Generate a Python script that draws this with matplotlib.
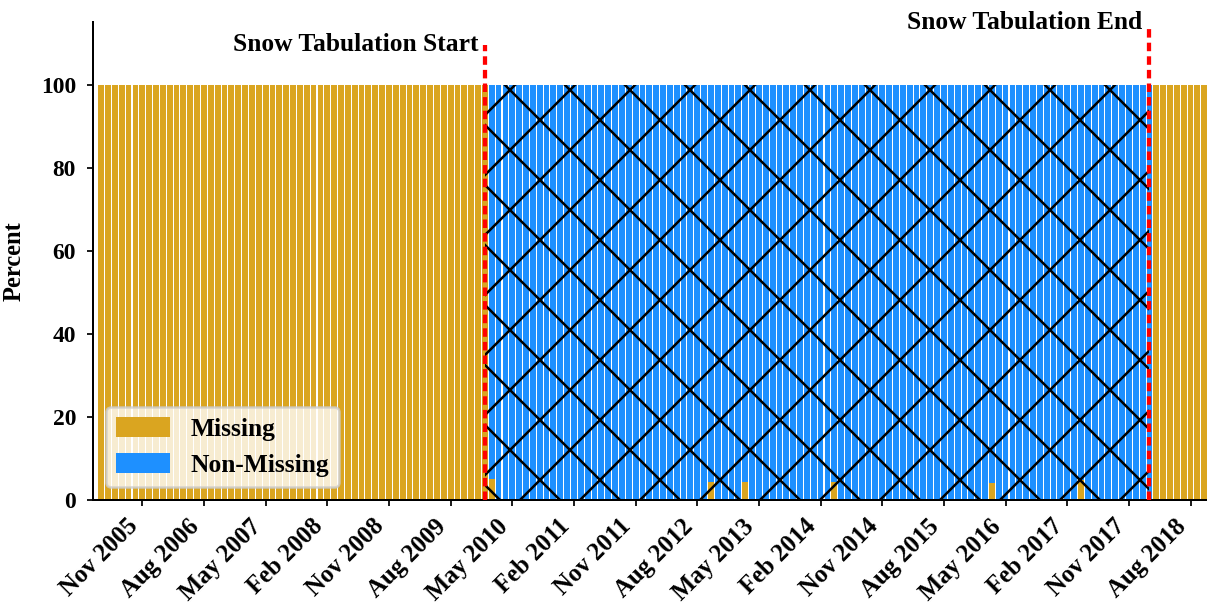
import matplotlib
matplotlib.use("Agg")
import matplotlib.pyplot as plt
import numpy as np
import pandas as pd

# ---- data -------------------------------------------------------------
# monthly record span
first_month = "2005-05"
last_month = "2018-10"

# snow tabulation window (months holding reported values)
tab_start_month = "2010-02"
tab_end_month = "2018-02"

# months where the vertical markers are placed
start_marker_month = "2010-01"
end_marker_month = "2018-02"

# months inside the window that are partly missing (percent missing)
partial_months = ["2010-02", "2012-10", "2013-03", "2014-04", "2016-03", "2017-04"]
partial_missing = [5.0, 4.3, 4.4, 4.4, 4.2, 4.8]

tick_labels = ["Nov 2005", "Aug 2006", "May 2007", "Feb 2008", "Nov 2008",
               "Aug 2009", "May 2010", "Feb 2011", "Nov 2011", "Aug 2012",
               "May 2013", "Feb 2014", "Nov 2014", "Aug 2015", "May 2016",
               "Feb 2017", "Nov 2017", "Aug 2018"]

# ---- derived series ---------------------------------------------------
months = pd.period_range(first_month, last_month, freq="M")
month_keys = [str(m) for m in months]
x = np.arange(len(months))

in_window = (months >= pd.Period(tab_start_month, "M")) & (months <= pd.Period(tab_end_month, "M"))
missing = np.where(in_window, 0.0, 100.0)
for m, v in zip(partial_months, partial_missing):
    missing[month_keys.index(m)] = v
non_missing = 100.0 - missing

tick_pos = [month_keys.index(pd.Period(pd.to_datetime(t, format="%b %Y"), "M").strftime("%Y-%m"))
            for t in tick_labels]
start_pos = month_keys.index(start_marker_month)
end_pos = month_keys.index(end_marker_month)

# ---- figure -----------------------------------------------------------
DPI = 180
plt.rcParams["font.family"] = ["Liberation Serif", "DejaVu Serif"]
plt.rcParams["font.weight"] = "bold"
plt.rcParams["hatch.linewidth"] = 1.0

fig = plt.figure(figsize=(1207 / DPI, 605 / DPI), dpi=DPI)
ax = fig.add_axes([93.3 / 1207, 105 / 605, (1207 - 93.3) / 1207, 478 / 605])

orange = "#DAA520"
blue = "#1E90FF"
bar_w = 0.85

ax.bar(x, missing, width=bar_w, color=orange, linewidth=0, label="Missing", zorder=2)
ax.bar(x, non_missing, width=bar_w, bottom=missing, color=blue, linewidth=0,
       label="Non-Missing", zorder=2)

# cross-hatch over the tabulation window
ax.fill_between([start_pos, end_pos], 0, 100, facecolor="none", edgecolor="black",
                hatch="x", linewidth=0, zorder=3)

# window markers
dash = (0, (2.0, 1.2))
ax.vlines(start_pos, 0, 109.6, colors="red", linestyles=dash, linewidth=1.7, zorder=4)
ax.vlines(end_pos, 0, 114.3, colors="red", linestyles=dash, linewidth=1.7, zorder=4)
ax.text(start_pos - 0.9, 108.2, "Snow Tabulation Start", ha="right", va="baseline",
        fontsize=10.2, fontweight="bold")
ax.text(end_pos - 1.0, 113.5, "Snow Tabulation End", ha="right", va="baseline",
        fontsize=10.2, fontweight="bold")

ax.set_xlim(-1.15, 161.4)
ax.set_ylim(0, 115.2)
ax.set_yticks([0, 20, 40, 60, 80, 100])
ax.set_xticks(tick_pos)
ax.set_xticklabels(tick_labels, rotation=45, ha="right", rotation_mode="default")

ax.tick_params(axis="both", length=2.4, width=0.7)
ax.tick_params(axis="x", labelsize=9.9, pad=3.5)
ax.tick_params(axis="y", labelsize=9.4, pad=4.5)
ax.set_ylabel("Percent", fontsize=9.8, fontweight="bold", labelpad=6)

for side in ("top", "right"):
    ax.spines[side].set_visible(False)
for side in ("left", "bottom"):
    ax.spines[side].set_linewidth(0.8)

ax.legend(loc="lower left", fontsize=10.2, handlelength=2.1, handleheight=0.8)

fig.savefig("out.png", dpi=DPI)
